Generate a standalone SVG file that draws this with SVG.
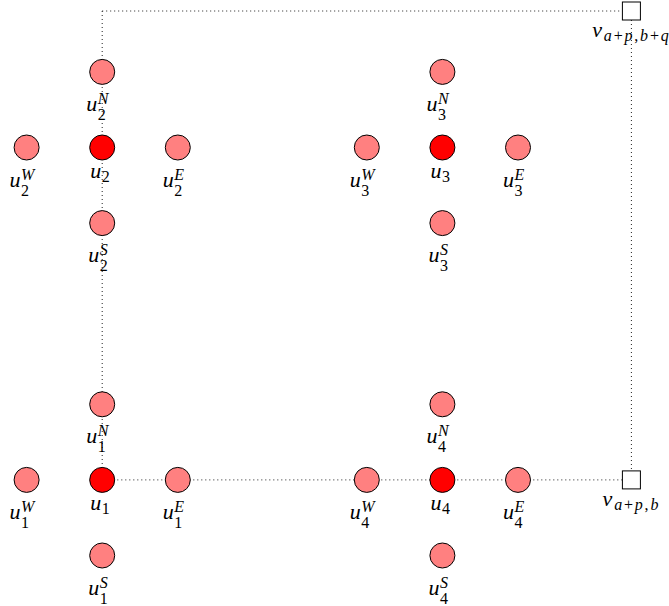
<svg xmlns="http://www.w3.org/2000/svg" width="669" height="606" viewBox="0 0 669 606">
<style>
.bg{fill:#fff}
.dot{fill:none;stroke:#222;stroke-width:1;stroke-dasharray:1 3}
.aux{fill:#ff8080;stroke:#000;stroke-width:1}
.ctr{fill:#ff0000;stroke:#000;stroke-width:1}
.sq{fill:#fff;stroke:#000;stroke-width:1}
text{font-family:"Liberation Serif","Times New Roman",serif;font-style:italic;font-size:22px;fill:#000}
.s{font-size:16px}
.r{font-style:normal}
.vs{letter-spacing:1.8px}
</style>
<rect class="bg" x="0" y="0" width="669" height="606"/>
<g id="connectors">
<path class="dot" d="M102.2 11 H622.4 M102.2 11 V479.9 H622.4 M631.4 20 V470.9"/>
</g>
<g id="u2N"><circle class="aux" cx="102.2" cy="71.9" r="12.5"/><text><tspan x="86.2" y="110.9">u</tspan><tspan class="s" x="97.7" y="103.9">N</tspan><tspan class="s r" x="97.7" y="119.9">2</tspan></text></g>
<g id="u2W"><circle class="aux" cx="26.6" cy="147.5" r="12.5"/><text><tspan x="9.6" y="186.5">u</tspan><tspan class="s" x="21.1" y="179.5">W</tspan><tspan class="s r" x="21.1" y="195.5">2</tspan></text></g>
<g id="u2"><circle class="ctr" cx="102.2" cy="147.5" r="12.5"/><text><tspan x="90.2" y="177.5">u</tspan><tspan class="s r" x="101.7" y="182">2</tspan></text></g>
<g id="u2E"><circle class="aux" cx="177.8" cy="147.5" r="12.5"/><text><tspan x="162.8" y="186.5">u</tspan><tspan class="s" x="174.3" y="179.5">E</tspan><tspan class="s r" x="174.3" y="195.5">2</tspan></text></g>
<g id="u2S"><circle class="aux" cx="102.2" cy="223.1" r="12.5"/><text><tspan x="88.2" y="262.1">u</tspan><tspan class="s" x="99.7" y="255.1">S</tspan><tspan class="s r" x="99.7" y="271.1">2</tspan></text></g>

<g id="u3N"><circle class="aux" cx="442.4" cy="71.9" r="12.5"/><text><tspan x="426.4" y="110.9">u</tspan><tspan class="s" x="437.9" y="103.9">N</tspan><tspan class="s r" x="437.9" y="119.9">3</tspan></text></g>
<g id="u3W"><circle class="aux" cx="366.8" cy="147.5" r="12.5"/><text><tspan x="349.8" y="186.5">u</tspan><tspan class="s" x="361.3" y="179.5">W</tspan><tspan class="s r" x="361.3" y="195.5">3</tspan></text></g>
<g id="u3"><circle class="ctr" cx="442.4" cy="147.5" r="12.5"/><text><tspan x="430.4" y="177.5">u</tspan><tspan class="s r" x="441.9" y="182">3</tspan></text></g>
<g id="u3E"><circle class="aux" cx="518" cy="147.5" r="12.5"/><text><tspan x="503" y="186.5">u</tspan><tspan class="s" x="514.5" y="179.5">E</tspan><tspan class="s r" x="514.5" y="195.5">3</tspan></text></g>
<g id="u3S"><circle class="aux" cx="442.4" cy="223.1" r="12.5"/><text><tspan x="428.4" y="262.1">u</tspan><tspan class="s" x="439.9" y="255.1">S</tspan><tspan class="s r" x="439.9" y="271.1">3</tspan></text></g>

<g id="u1N"><circle class="aux" cx="102.2" cy="404.3" r="12.5"/><text><tspan x="86.2" y="443.3">u</tspan><tspan class="s" x="97.7" y="436.3">N</tspan><tspan class="s r" x="97.7" y="452.3">1</tspan></text></g>
<g id="u1W"><circle class="aux" cx="26.6" cy="479.9" r="12.5"/><text><tspan x="9.6" y="518.9">u</tspan><tspan class="s" x="21.1" y="511.9">W</tspan><tspan class="s r" x="21.1" y="527.9">1</tspan></text></g>
<g id="u1"><circle class="ctr" cx="102.2" cy="479.9" r="12.5"/><text><tspan x="90.2" y="509.9">u</tspan><tspan class="s r" x="101.7" y="514.4">1</tspan></text></g>
<g id="u1E"><circle class="aux" cx="177.8" cy="479.9" r="12.5"/><text><tspan x="162.8" y="518.9">u</tspan><tspan class="s" x="174.3" y="511.9">E</tspan><tspan class="s r" x="174.3" y="527.9">1</tspan></text></g>
<g id="u1S"><circle class="aux" cx="102.2" cy="555.5" r="12.5"/><text><tspan x="88.2" y="594.5">u</tspan><tspan class="s" x="99.7" y="587.5">S</tspan><tspan class="s r" x="99.7" y="603.5">1</tspan></text></g>

<g id="u4N"><circle class="aux" cx="442.4" cy="404.3" r="12.5"/><text><tspan x="426.4" y="443.3">u</tspan><tspan class="s" x="437.9" y="436.3">N</tspan><tspan class="s r" x="437.9" y="452.3">4</tspan></text></g>
<g id="u4W"><circle class="aux" cx="366.8" cy="479.9" r="12.5"/><text><tspan x="349.8" y="518.9">u</tspan><tspan class="s" x="361.3" y="511.9">W</tspan><tspan class="s r" x="361.3" y="527.9">4</tspan></text></g>
<g id="u4"><circle class="ctr" cx="442.4" cy="479.9" r="12.5"/><text><tspan x="430.4" y="509.9">u</tspan><tspan class="s r" x="441.9" y="514.4">4</tspan></text></g>
<g id="u4E"><circle class="aux" cx="518" cy="479.9" r="12.5"/><text><tspan x="503" y="518.9">u</tspan><tspan class="s" x="514.5" y="511.9">E</tspan><tspan class="s r" x="514.5" y="527.9">4</tspan></text></g>
<g id="u4S"><circle class="aux" cx="442.4" cy="555.5" r="12.5"/><text><tspan x="428.4" y="594.5">u</tspan><tspan class="s" x="439.9" y="587.5">S</tspan><tspan class="s r" x="439.9" y="603.5">4</tspan></text></g>

<g id="v_top"><rect class="sq" x="622.4" y="2" width="18" height="18"/><text class="vs" x="631.4" y="37" text-anchor="middle">v<tspan class="s" dy="4">a</tspan><tspan class="s r">+</tspan><tspan class="s">p</tspan><tspan class="s r">,</tspan><tspan class="s">b</tspan><tspan class="s r">+</tspan><tspan class="s">q</tspan></text></g>
<g id="v_bot"><rect class="sq" x="622.4" y="470.9" width="18" height="18"/><text class="vs" x="631.4" y="505.9" text-anchor="middle">v<tspan class="s" dy="4">a</tspan><tspan class="s r">+</tspan><tspan class="s">p</tspan><tspan class="s r">,</tspan><tspan class="s">b</tspan></text></g>
</svg>
